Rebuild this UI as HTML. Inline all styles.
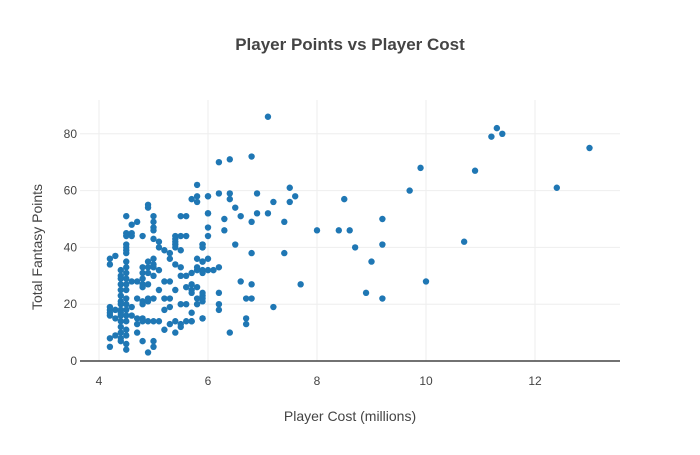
<!DOCTYPE html>
<html><head><meta charset="utf-8"><style>
body{margin:0;background:#fff;font-family:"Liberation Sans",sans-serif}
</style></head><body>
<svg id="chart" width="700" height="450" xmlns="http://www.w3.org/2000/svg">
<rect width="700" height="450" fill="#fff"/>
<text x="350" y="50" text-anchor="middle" font-size="17" font-weight="bold" fill="#444">Player Points vs Player Cost</text>
<g id="grid"></g><g id="axes"></g><g id="pts"></g>
<text x="350" y="421" text-anchor="middle" font-size="14" fill="#444">Player Cost (millions)</text>
<text transform="translate(42,247) rotate(-90)" text-anchor="middle" font-size="14" fill="#444">Total Fantasy Points</text>
</svg>
<script>
const xTicks=[4,6,8,10,12];
const yTicks=[0,20,40,60,80];
const costs=[7.1,11.3,11.2,11.4,13,10.9,9.9,9.7,12.4,10.7,10,9.2,9.2,9.2,8.9,9,8.7,8.6,8.4,8.5,8,7.7,7.6,7.5,7.5,7.4,7.4,7.2,7.2,7.1,6.9,6.9,6.8,6.8,6.8,6.8,6.8,6.7,6.7,6.7,6.6,6.6,6.5,6.5,6.4,6.4,6.4,6.4,6.3,6.3,6.2,6.2,6.2,6.2,6.2,6.2,6.1,6.0,6.0,6.0,5.9,5.9,5.9,5.9,5.9,5.9,5.9,5.8,5.8,5.8,5.8,5.7,5.7,5.7,
4.2,4.2,4.2,4.2,4.2,4.2,4.2,4.2,4.3,4.3,4.3,4.3,
4.4,4.4,4.4,4.4,4.4,4.4,4.4,4.4,4.4,4.4,4.4,4.4,4.4,4.4,4.4,4.4,
4.5,4.5,4.5,4.5,4.5,4.5,4.5,4.5,4.5,4.5,4.5,4.5,4.5,4.5,4.5,4.5,4.5,4.5,4.5,4.5,4.5,4.5,
4.6,4.6,4.6,4.6,4.6,4.6,4.7,4.7,4.7,4.7,4.7,4.7,
4.8,4.8,4.8,4.8,4.8,4.8,4.8,4.8,4.8,4.8,4.8,
4.9,4.9,4.9,4.9,4.9,4.9,4.9,4.9,4.9,4.9,
5.0,5.0,5.0,5.0,5.0,5.0,5.0,5.0,5.0,5.0,5.0,5.0,5.0,
5.1,5.1,5.1,5.1,5.1,5.2,5.2,5.2,5.2,5.2,5.3,5.3,5.3,5.3,5.3,5.3,
5.4,5.4,5.4,5.4,5.4,5.4,5.4,5.4,5.4,5.5,5.5,5.5,5.5,5.5,5.5,5.5,5.5,
5.6,5.6,5.6,5.6,5.6,5.6,5.7,5.7,5.7,5.7,5.7,5.8,5.8,5.8,5.8,5.8,
5.9,5.9,5.9,5.9,5.9,5.9,5.9,6.0,6.0,6.0,6.0,6.0];
const points=[86,82,79,80,75,67,68,60,61,42,28,50,41,22,24,35,40,46,46,57,46,27,58,61,56,49,38,56,19,52,59,52,72,49,38,27,22,22,13,15,51,28,54,41,71,59,57,10,50,46,70,59,33,24,20,18,32,52,58,44,41,40,35,31,23,21,15,62,58,56,32,57,25,14,
36,34,18,16,8,5,17,19,37,18,15,9,
32,30,29,27,25,23,21,20,18,17,16,14,12,10,7,8,
51,45,44,41,40,39,38,35,33,31,29,27,25,22,20,18,16,14,11,9,6,4,
48,45,44,28,19,16,49,28,22,15,13,10,
44,33,31,29,27,26,21,20,15,14,7,
55,54,35,33,31,27,22,21,14,3,
51,49,47,46,43,36,34,33,30,22,14,7,5,
42,40,32,25,14,39,28,22,18,11,38,36,28,22,19,13,
44,42,41,40,34,25,14,10,43,51,44,39,33,30,20,13,12,
51,44,30,26,20,14,31,27,24,17,14,36,33,26,22,20,
41,40,35,32,24,22,15,58,52,47,36,32];
const X0=80,X1=620,Y0=100,Y1=361;
const xs=v=>99+(v-4)*54.5;
const ys=v=>361-v*2.84;
const NS='http://www.w3.org/2000/svg';
const grid=document.getElementById('grid'),axes=document.getElementById('axes'),pts=document.getElementById('pts');
function mk(tag,at,parent){const e=document.createElementNS(NS,tag);for(const k in at)e.setAttribute(k,at[k]);parent.appendChild(e);return e;}
xTicks.forEach(t=>{
 const l=mk('line',{x1:xs(t),x2:xs(t),y1:Y0,y2:Y1,stroke:'#eee'},grid);
 
 
 const tx=mk('text',{x:xs(t),y:385,'text-anchor':'middle','font-size':12,fill:'#444'},axes);
 tx.textContent=t;
 
 
});
yTicks.forEach(t=>{
 if(t>0){const l=mk('line',{x1:X0,x2:X1,y1:ys(t),y2:ys(t),stroke:'#eee'},grid);
 
 }
 const tx=mk('text',{x:77,y:ys(t)+4,'text-anchor':'end','font-size':12,fill:'#444'},axes);
 tx.textContent=t;
 
 
});
const zl=mk('line',{x1:X0,x2:X1,y1:Y1,y2:Y1,stroke:'#444','stroke-width':1.5},axes);


costs.forEach((c,i)=>{
 const d=mk('circle',{cx:xs(c),cy:ys(points[i]),r:3.2,fill:'#1f77b4'},pts);
 
 
});
</script>
</body></html>
